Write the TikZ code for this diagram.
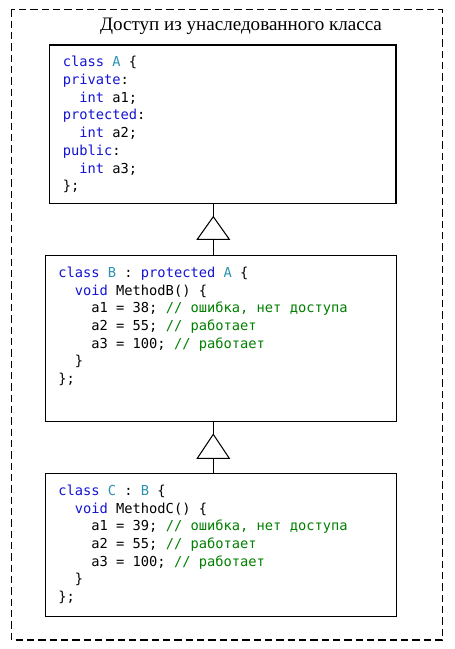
\documentclass[tikz,border=0pt]{standalone}
\usepackage{fontspec}
\setmainfont{Liberation Serif}
\newfontfamily\codefont{DejaVu Sans Mono}
\usetikzlibrary{positioning,calc}

\definecolor{kwblue}{RGB}{20,20,210}
\definecolor{typeteal}{RGB}{43,145,175}
\definecolor{cmtgreen}{RGB}{0,128,0}
\newcommand{\kw}[1]{\textcolor{kwblue}{#1}}
\newcommand{\tp}[1]{\textcolor{typeteal}{#1}}
\newcommand{\cmt}[1]{\textcolor{cmtgreen}{#1}}
\newcommand{\ind}[1]{\hspace*{#1\fontcharwd\font`\x}}

\begin{document}
\begin{tikzpicture}[x=0.75pt,y=-0.75pt]

\tikzset{classbox/.style = {shape=rectangle,draw,line width=0.9pt,inner sep=0pt}}
\tikzset{code/.style = {anchor=north west,align=left,inner sep=0pt,
    font=\codefont\fontsize{10.3}{13.3}\selectfont}}
\tikzset{edge/.style = {line width=0.8pt}}
\useasboundingbox (0,0) rectangle (454,649);

% frame
\draw[line width=0.8pt,dash pattern=on 5.5pt off 3pt] (11.7,9.3) rectangle (442.3,640);
\node[anchor=base,font=\fontsize{14.3}{16}\selectfont] (title) at (241,31) {Доступ из унаследованного класса};

% classes
\node[classbox,minimum width=260pt,minimum height=118.7pt] (boxA) at (222.7,124.2) {};
\node[classbox,minimum width=263.1pt,minimum height=124.8pt] (boxB) at (221.1,338.5) {};
\node[classbox,minimum width=263.1pt,minimum height=107.6pt] (boxC) at (221.1,545) {};

\node[code] (codeA) at (62.5,56) {\kw{class} \tp{A} \{\\
\kw{private}:\\
\ind{2}\kw{int} a1;\\
\kw{protected}:\\
\ind{2}\kw{int} a2;\\
\kw{public}:\\
\ind{2}\kw{int} a3;\\
\};};

\node[code] (codeB) at (58,266.5) {\kw{class} \tp{B} : \kw{protected} \tp{A} \{\\
\ind{2}\kw{void} MethodB() \{\\
\ind{4}a1 = 38; \cmt{// ошибка, нет доступа}\\
\ind{4}a2 = 55; \cmt{// работает}\\
\ind{4}a3 = 100; \cmt{// работает}\\
\ind{2}\}\\
\};};

\node[code] (codeC) at (58,484.5) {\kw{class} \tp{C} : \tp{B} \{\\
\ind{2}\kw{void} MethodC() \{\\
\ind{4}a1 = 39; \cmt{// ошибка, нет доступа}\\
\ind{4}a2 = 55; \cmt{// работает}\\
\ind{4}a3 = 100; \cmt{// работает}\\
\ind{2}\}\\
\};};

% inheritance
\coordinate (tipA) at (213.3,216.7);
\coordinate (baseA) at (213.3,239.3);
\coordinate (tipB) at (213.3,434.3);
\coordinate (baseB) at (213.3,458.3);

\draw[edge] (tipA) -- ($(baseA)+(-16,0)$) -- ($(baseA)+(16,0)$) -- cycle;
\draw[edge] (tipB) -- ($(baseB)+(-16,0)$) -- ($(baseB)+(16,0)$) -- cycle;
\draw[edge] (boxA.south -| tipA) -- (tipA);
\draw[edge] (baseA) -- (boxB.north -| baseA);
\draw[edge] (boxB.south -| tipB) -- (tipB);
\draw[edge] (baseB) -- (boxC.north -| baseB);

\end{tikzpicture}
\end{document}
